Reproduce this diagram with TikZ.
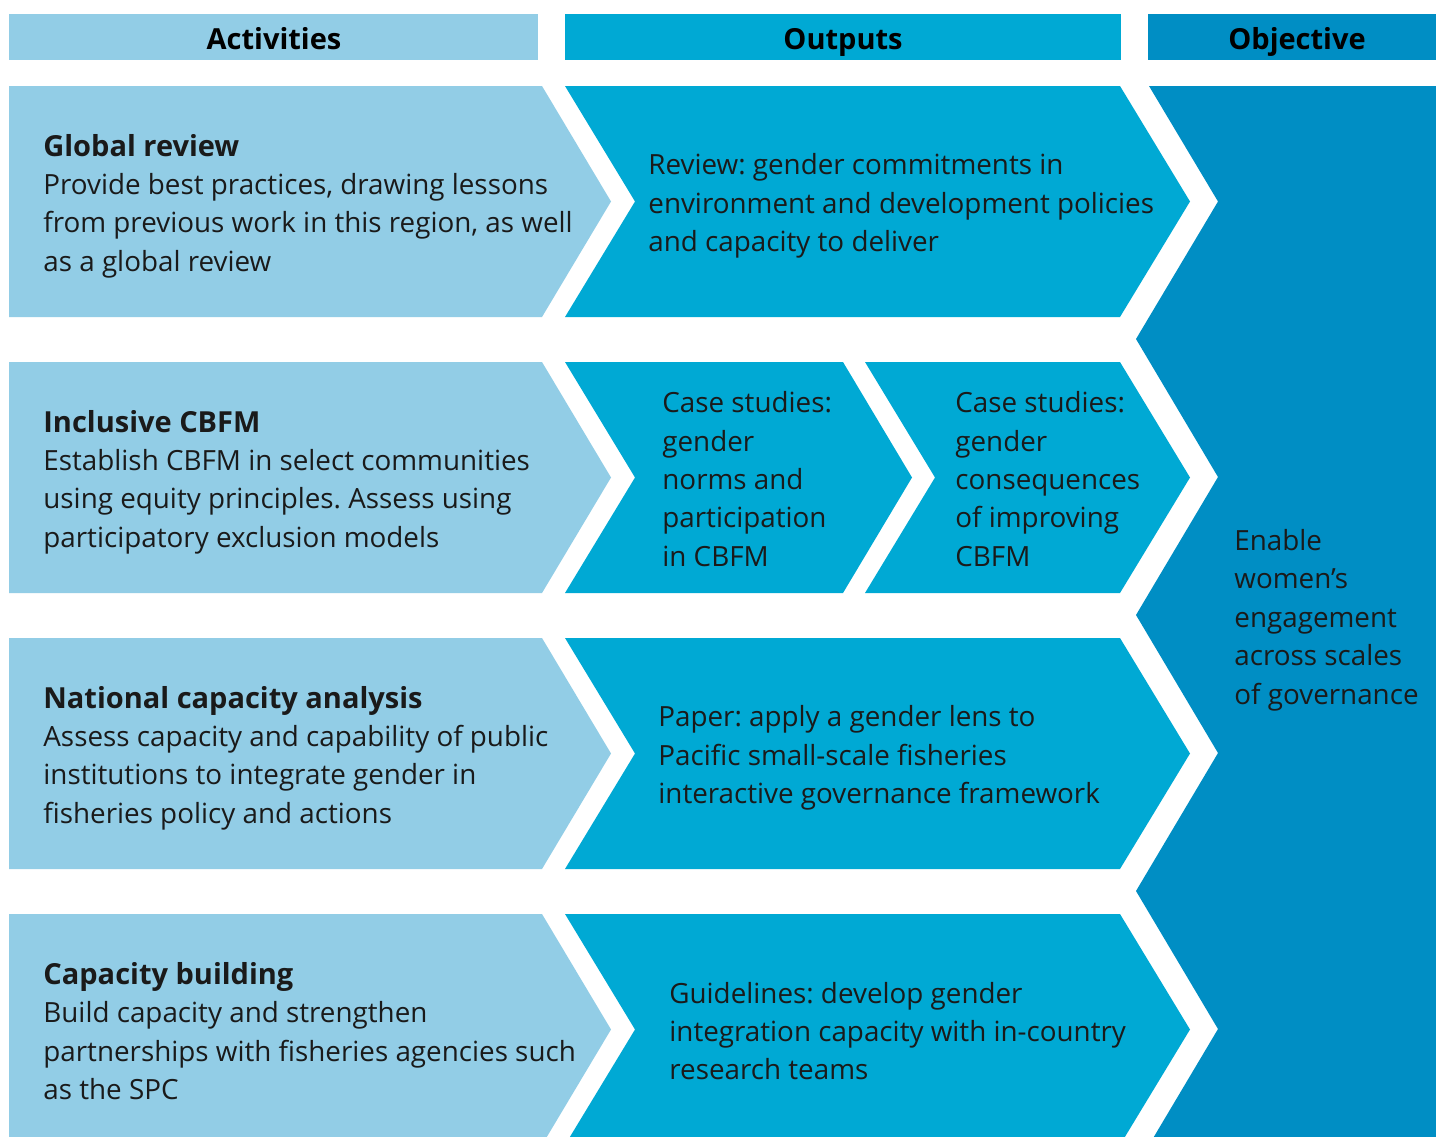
\documentclass[tikz,border=0pt]{standalone}
\usepackage{fontspec}
\setmainfont{Open Sans}
\frenchspacing
\definecolor{actc}{HTML}{92CDE6}
\definecolor{outc}{HTML}{00A9D4}
\definecolor{objc}{HTML}{008EC4}
\definecolor{txt}{HTML}{1A1A1A}
\newcommand\myhead[1]{{\bfseries\fontsize{14.5}{19.2}\selectfont #1}}
\begin{document}
\begin{tikzpicture}[x=0.5pt,y=-0.5pt,
  body/.style={anchor=west, inner sep=0, align=left, font=\frenchspacing\fontsize{13.9}{19.2}\selectfont, text=txt},
  head/.style={inner sep=0, anchor=base, font=\bfseries\fontsize{14.5}{17}\selectfont, text=black}]
\clip (0,0) rectangle (1436,1136);
\fill[white] (0,0) rectangle (1436,1136);
% header bars
\fill[actc] (9,14) rectangle (538,60);
\fill[outc] (565,14) rectangle (1121,60);
\fill[objc] (1148,14) rectangle (1436,60);
\node[head] (hA) at (274,49) {Activities};
\node[head] (hO) at (843,49) {Outputs};
\node[head] (hJ) at (1297,49) {Objective};
% activity chevrons
\foreach \t in {86,362,638,914}{
  \fill[actc] (9,\t) -- (542,\t) -- (611,\t+115.5) -- (542,\t+231) -- (9,\t+231) -- cycle;
}
% output chevrons
\foreach \t in {86,638,914}{
  \fill[outc] (565,\t) -- (1120,\t) -- (1190,\t+115.5) -- (1120,\t+231) -- (565,\t+231) -- (635,\t+115.5) -- cycle;
}
\fill[outc] (565,362) -- (843,362) -- (912,477.5) -- (843,593) -- (565,593) -- (635,477.5) -- cycle;
\fill[outc] (865,362) -- (1120,362) -- (1190,477.5) -- (1120,593) -- (865,593) -- (935,477.5) -- cycle;
% objective
\fill[objc] (1149,86) -- (1436,86) -- (1436,1145) -- (1149,1145) -- (1218,1029) -- (1136,891)
  -- (1218,753) -- (1136,615) -- (1218,477) -- (1136,339) -- (1218,201.5) -- cycle;
% texts
\node[body] (a1) at (43,206) {\myhead{Global review}\\Provide best practices, drawing lessons\\from previous work in this region, as well\\as a global review};
\node[body] (a2) at (43,482) {\myhead{Inclusive CBFM}\\Establish CBFM in select communities\\using equity principles. Assess using\\participatory exclusion models};
\node[body] (a3) at (43,758) {\myhead{National capacity analysis}\\Assess capacity and capability of public\\institutions to integrate gender in\\fisheries policy and actions};
\node[body] (a4) at (43,1031) {\myhead{Capacity building}\\Build capacity and strengthen\\partnerships with fisheries agencies such\\as the SPC};
\node[body] (o1) at (648,206) {Review: gender commitments in\\environment and development policies\\and capacity to deliver};
\node[body] (o2a) at (662,479) {Case studies:\\gender\\norms and\\participation\\in CBFM};
\node[body] (o2b) at (955,479) {Case studies:\\gender\\consequences\\of improving\\CBFM};
\node[body] (o3) at (658,758) {Paper: apply a gender lens to\\Pacific small-scale fisheries\\interactive governance framework};
\node[body] (o4) at (669,1031) {Guidelines: develop gender\\integration capacity with in-country\\research teams};
\node[body] (obj) at (1234,620) {Enable\\women’s\\engagement\\across scales\\of governance};
\end{tikzpicture}
\end{document}
